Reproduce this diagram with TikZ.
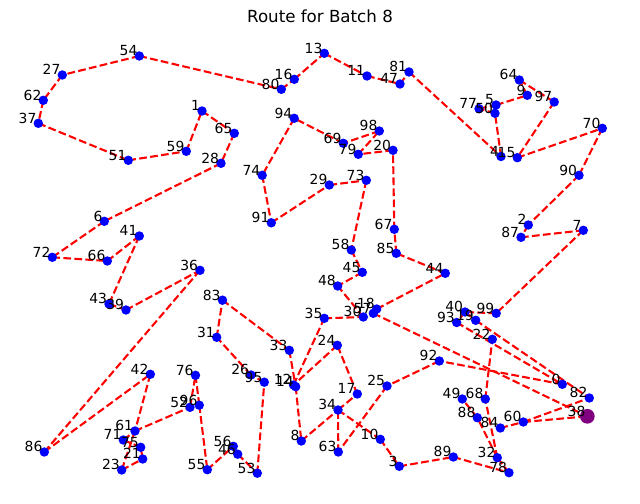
\documentclass[tikz,border=0pt]{standalone}
\usepackage{fontspec}
\setmainfont{DejaVu Sans}
\definecolor{depotpurple}{rgb}{0.5,0,0.5}
\pgfdeclarelayer{bg}
\pgfsetlayers{bg,main}
\begin{document}
\begin{tikzpicture}[x=0.72pt,y=-0.72pt,
  route/.style={draw=red, line width=1.5pt, dash pattern=on 5.55pt off 2.4pt},
  stop/.style={circle, fill=blue, inner sep=0pt, minimum size=6.8pt},
  depot/.style={circle, fill=depotpurple, inner sep=0pt, minimum size=10.6pt},
  lbl/.style={anchor=base east, inner sep=0pt, font=\fontsize{10}{12}\selectfont, xshift=-1.2pt},
  ttl/.style={anchor=base, inner sep=0pt, font=\fontsize{12}{14}\selectfont}]
\useasboundingbox (0,0) rectangle (640,504);
\node[ttl] (title) at (320,23) {Route for Batch 8};
\foreach \i/\x/\y in {
0/562.3/384.3, 1/202/111, 2/528.3/225, 3/399.3/466.3, 4/501/156.5,
5/496/105, 6/104.3/221.3, 7/583.3/230.3, 8/301.3/441, 9/527.3/95.3,
10/380.3/439.3, 11/367/76, 12/293.5/385, 13/324.3/53.3, 14/295.7/386.7,
15/517.3/157.7, 16/294.3/79.3, 17/357.3/394, 18/376.7/309, 19/475.7/320.3,
20/393/150.3, 21/142.7/459, 22/492.3/339.3, 23/121.7/470, 24/337.3/345.3,
25/387/386, 26/251/375, 27/62.3/75, 28/221/163.3, 29/329.3/185,
30/363.3/317, 31/216.7/337.3, 32/497.3/457.7, 33/289.3/350.3, 34/338/410,
35/324.3/318.3, 36/200/270.3, 37/38.3/123.3, 39/126/310,
40/465/312, 41/139.3/236, 42/150.3/374.3, 43/109/304, 44/445.3/273.3,
45/362.3/272.3, 46/237.7/454.2, 47/400/84, 48/337.7/286, 49/462.3/399,
50/495/113.3, 51/128.3/160.3, 52/190/407.3, 53/257.3/473.2, 54/139.3/56,
55/207.3/469.7, 56/233.3/446.3, 57/373.3/313.3, 58/351.3/250, 59/186.3/151.3,
60/523.3/422, 61/135/431, 62/43.3/100.3, 63/338.3/452, 64/519.3/80,
65/234.3/133.3, 66/107.3/261, 67/394.3/229.3, 68/485.3/399, 69/343.3/143.3,
70/602.3/128.3, 71/123.3/440, 72/52.3/257.3, 73/366.3/180.3, 74/262.2/175.3,
75/140.7/447.3, 76/195.5/375.3, 77/479/108.7, 78/509/472.7, 79/358.3/154.3,
80/281.3/89.3, 81/409/72, 82/589.3/398, 83/222.5/300.2, 84/500.3/428,
85/396.3/253.3, 86/44.3/452, 87/521/237.3, 88/477.3/417.7, 89/453.3/457,
90/579/175.3, 91/271.3/222.8, 92/439.3/361, 93/456.7/322.5, 94/294.2/118.3,
95/264.3/382.2, 96/199.3/405.2, 97/554.2/102, 98/379.3/131, 99/496.2/313.3}
{
  \node[stop] (n\i) at (\x,\y) {};
}
\node[depot] (n38) at (587.3,416.3) {};
\foreach \i/\x/\y in {
0/562.3/384.3, 1/202/111, 2/528.3/225, 3/399.3/466.3, 4/501/156.5,
5/496/105, 6/104.3/221.3, 7/583.3/230.3, 8/301.3/441, 9/527.3/95.3,
10/380.3/439.3, 11/367/76, 12/293.5/385, 13/324.3/53.3, 14/295.7/386.7,
15/517.3/157.7, 16/294.3/79.3, 17/357.3/394, 18/376.7/309, 19/475.7/320.3,
20/393/150.3, 21/142.7/459, 22/492.3/339.3, 23/121.7/470, 24/337.3/345.3,
25/387/386, 26/251/375, 27/62.3/75, 28/221/163.3, 29/329.3/185,
30/363.3/317, 31/216.7/337.3, 32/497.3/457.7, 33/289.3/350.3, 34/338/410,
35/324.3/318.3, 36/200/270.3, 37/38.3/123.3, 38/587.3/416.3, 39/126/310,
40/465/312, 41/139.3/236, 42/150.3/374.3, 43/109/304, 44/445.3/273.3,
45/362.3/272.3, 46/237.7/454.2, 47/400/84, 48/337.7/286, 49/462.3/399,
50/495/113.3, 51/128.3/160.3, 52/190/407.3, 53/257.3/473.2, 54/139.3/56,
55/207.3/469.7, 56/233.3/446.3, 57/373.3/313.3, 58/351.3/250, 59/186.3/151.3,
60/523.3/422, 61/135/431, 62/43.3/100.3, 63/338.3/452, 64/519.3/80,
65/234.3/133.3, 66/107.3/261, 67/394.3/229.3, 68/485.3/399, 69/343.3/143.3,
70/602.3/128.3, 71/123.3/440, 72/52.3/257.3, 73/366.3/180.3, 74/262.2/175.3,
75/140.7/447.3, 76/195.5/375.3, 77/479/108.7, 78/509/472.7, 79/358.3/154.3,
80/281.3/89.3, 81/409/72, 82/589.3/398, 83/222.5/300.2, 84/500.3/428,
85/396.3/253.3, 86/44.3/452, 87/521/237.3, 88/477.3/417.7, 89/453.3/457,
90/579/175.3, 91/271.3/222.8, 92/439.3/361, 93/456.7/322.5, 94/294.2/118.3,
95/264.3/382.2, 96/199.3/405.2, 97/554.2/102, 98/379.3/131, 99/496.2/313.3}
{
  \node[lbl] (l\i) at (\x,\y) {\i};
}
\begin{pgfonlayer}{bg}
\foreach \a/\b in {
54/27, 27/62, 62/37, 37/51, 51/59, 59/1, 1/65, 65/28, 28/6, 6/72, 72/66,
66/41, 41/43, 43/39, 39/36, 36/86, 86/42, 42/61, 61/23, 23/21, 21/75,
75/71, 71/61, 61/52, 52/76, 76/96, 96/55, 55/56, 56/46, 46/53, 53/95,
95/26, 26/31, 31/83, 83/33, 33/14, 14/8, 8/34, 34/17, 17/24, 24/12,
12/35, 35/30, 30/48, 57/38, 57/18, 18/44, 44/85, 85/67, 67/20, 20/79,
79/98, 98/69, 69/94, 94/74, 74/91, 91/29, 29/73, 73/58, 58/45, 45/48,
54/80, 80/16, 16/13, 13/11, 11/47, 47/81, 81/4, 4/50, 50/77, 77/5, 5/9,
9/64, 64/97, 97/15, 15/70, 70/90, 90/2, 2/87, 87/7, 7/99, 99/40, 40/19,
40/93, 19/82, 93/0, 0/92, 92/25, 25/63, 63/34, 34/10, 10/3, 3/89, 89/78,
78/32, 32/68, 68/22, 32/88, 88/49, 84/60, 60/38, 60/82}
{
  \draw[route] (n\a.center) -- (n\b.center);
}
\end{pgfonlayer}
\end{tikzpicture}
\end{document}
